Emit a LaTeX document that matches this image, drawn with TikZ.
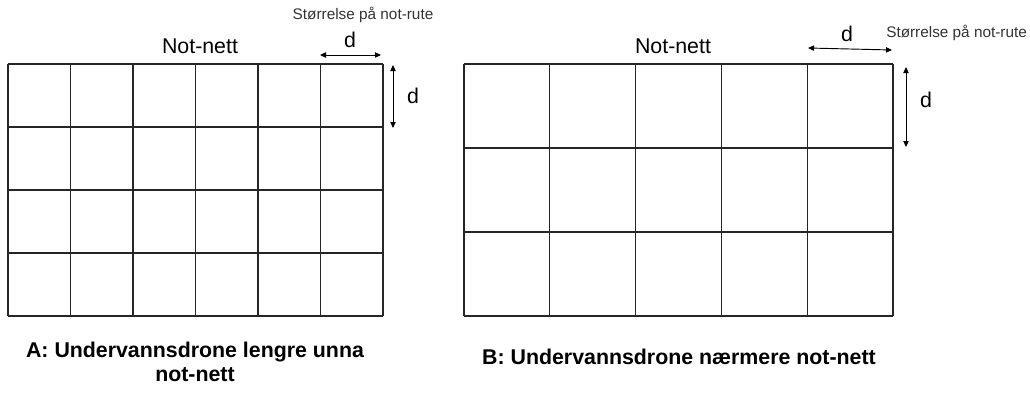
\documentclass[tikz,border=0pt]{standalone}
\usepackage{fontspec}
\setmainfont{Liberation Sans}
\usetikzlibrary{arrows.meta}

\begin{document}
\begin{tikzpicture}[x=0.75pt, y=-0.75pt, >={Triangle[length=4.5pt,width=4pt]},
    netline/.style={line width=1pt, black!85},
    maal/.style={<->, line width=0.7pt},
    stor/.style={font=\fontsize{16}{18}\selectfont, anchor=base, inner sep=0pt},
    liten/.style={font=\fontsize{11.5}{13}\selectfont, black!80, anchor=base, inner sep=0pt},
    tekst/.style={font=\fontsize{16}{18}\selectfont\bfseries, align=center, inner sep=0pt}]
  \useasboundingbox (0,0) rectangle (1030,396);
  % nett A: 6 x 4 ruter
  \foreach \i in {0,...,6}
    \draw[netline] (8+\i*62.5,64) -- (8+\i*62.5,316);
  \foreach \j in {0,...,4}
    \draw[netline] (8,64+\j*63) -- (383,64+\j*63);
  % nett B: 5 x 3 ruter
  \foreach \i in {0,...,5}
    \draw[netline] (464+\i*85.8,64) -- (464+\i*85.8,316);
  \foreach \j in {0,...,3}
    \draw[netline] (464,64+\j*84) -- (893,64+\j*84);
  % titler
  \node[stor] (nettA) at (200,53) {Not-nett};
  \node[stor] (nettB) at (673,53) {Not-nett};
  % rutestorrelse A
  \coordinate (hA1) at (320,55);
  \coordinate (hA2) at (381,55);
  \coordinate (vA1) at (393,65);
  \coordinate (vA2) at (393,128);
  \draw[maal] (hA1) -- (hA2);
  \draw[maal] (vA1) -- (vA2);
  \node[stor] (dhA) at (350,47) {d};
  \node[stor] (dvA) at (413,103) {d};
  \node[liten] (rA) at (363,19) {Størrelse på not-rute};
  % rutestorrelse B
  \coordinate (hB1) at (808,48);
  \coordinate (hB2) at (892,50);
  \coordinate (vB1) at (906,67);
  \coordinate (vB2) at (906,147);
  \draw[maal] (hB1) -- (hB2);
  \draw[maal] (vB1) -- (vB2);
  \node[stor] (dhB) at (847,41) {d};
  \node[stor] (dvB) at (926,107) {d};
  \node[liten, anchor=base west] (rB) at (886,37) {Størrelse på not-rute};
  % bildetekster
  \node[tekst] (capA) at (195,362) {A: Undervannsdrone lengre unna\\not-nett};
  \node[tekst] (capB) at (679,357) {B: Undervannsdrone nærmere not-nett};
\end{tikzpicture}
\end{document}
